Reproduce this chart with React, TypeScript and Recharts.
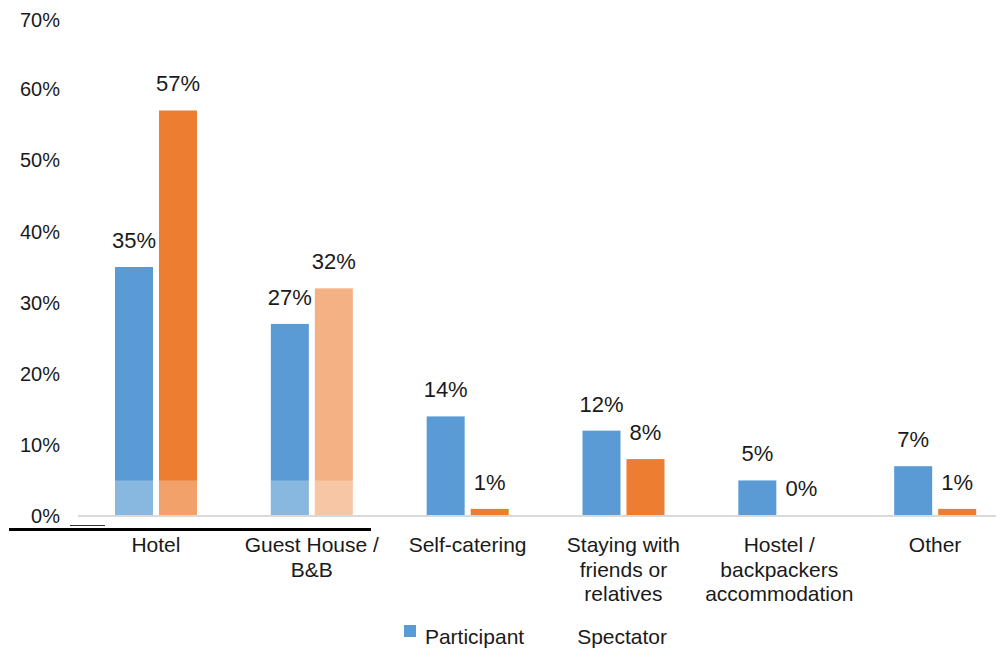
import React from "react";
import { BarChart, Bar, XAxis, YAxis, Legend, LabelList, Cell } from "recharts";

const categories = [
  "Hotel",
  "Guest House / B&B",
  "Self-catering",
  "Staying with friends or relatives",
  "Hostel / backpackers accommodation",
  "Other",
];
const participant = [35, 27, 14, 12, 5, 7];
const spectator = [57, 32, 1, 8, 0, 1];
const tickLines = [
  ["Hotel"],
  ["Guest House /", "B&B"],
  ["Self-catering"],
  ["Staying with", "friends or", "relatives"],
  ["Hostel /", "backpackers", "accommodation"],
  ["Other"],
];
const yTicks = [0, 10, 20, 30, 40, 50, 60, 70];

const data = categories.map((name, i) => ({
  name,
  participant: participant[i],
  spectator: spectator[i],
}));

const FONT = "'Liberation Sans', Arial, sans-serif";
const BLUE = "#5B9BD5";
const ORANGE = "#ED7D31";
const TEXT = "#1a1a1a";

const CategoryTick = (props: any) => {
  const { x, y, payload } = props;
  const idx = categories.indexOf(payload.value);
  const lines = tickLines[idx] || [payload.value];
  return (
    <g transform={`translate(${x},${y})`}>
      {lines.map((l, i) => (
        <text
          key={i}
          x={0}
          y={28 + i * 24.5}
          textAnchor="middle"
          fontSize={21}
          fontFamily={FONT}
          fill={TEXT}
        >
          {l}
        </text>
      ))}
    </g>
  );
};

// bars of the first two groups carry a washed-out band at the bottom (up to 5%)
const makeShape = (key: "participant" | "spectator") => (props: any) => {
  const { x, y, width, height, fill, index, payload } = props;
  const v = payload ? payload[key] : 0;
  if (!v || height <= 0) return <g />;
  const band = index < 2 ? height * (5 / v) : 0;
  return (
    <g>
      <rect x={x} y={y} width={width} height={height} fill={fill} />
      {band > 0 && (
        <rect
          x={x}
          y={y + height - band}
          width={width}
          height={band}
          fill="#ffffff"
          fillOpacity={0.28}
        />
      )}
    </g>
  );
};

const LegendBox = () => (
  <div
    style={{
      display: "flex",
      justifyContent: "center",
      fontFamily: FONT,
      fontSize: 21,
      color: TEXT,
      paddingLeft: 50,
    }}
  >
    <span style={{ display: "flex", alignItems: "flex-start", marginRight: 53 }}>
      <span
        style={{
          width: 12,
          height: 12,
          background: BLUE,
          display: "inline-block",
          marginRight: 9,
          marginTop: 0,
        }}
      />
      Participant
    </span>
    <span>Spectator</span>
  </div>
);

const labelStyle = { fontSize: 22, fontFamily: FONT, fill: TEXT };

const App = () => {
  return (
    <div style={{ position: "relative", width: 996, height: 645, overflow: "hidden" }}>
      <BarChart
        width={1005}
        height={645}
        data={data}
        margin={{ top: 10, right: 0, left: 0, bottom: 4 }}
        barSize={38}
        barGap={6}
      >
        <XAxis
          dataKey="name"
          interval={0}
          tick={<CategoryTick />}
          tickLine={false}
          axisLine={{ stroke: "#D9D9D9", strokeWidth: 2 }}
          height={109}
        />
        <YAxis
          domain={[0, 70]}
          ticks={yTicks}
          tickFormatter={(v) => `${v}%`}
          axisLine={false}
          tickLine={false}
          tickSize={0}
          tickMargin={18}
          width={70}
          tick={{ fontSize: 20, fontFamily: FONT, fill: TEXT }}
        />
        <Legend verticalAlign="bottom" content={<LegendBox />} />
        <Bar
          dataKey="participant"
          name="Participant"
          fill={BLUE}
          shape={makeShape("participant")}
          isAnimationActive={false}
        >
          <LabelList
            dataKey="participant"
            position="top"
            offset={19}
            formatter={(v: any) => `${v}%`}
            style={labelStyle}
          />
        </Bar>
        <Bar
          dataKey="spectator"
          name="Spectator"
          fill={ORANGE}
          minPointSize={1}
          shape={makeShape("spectator")}
          isAnimationActive={false}
        >
          {data.map((d, i) => (
            <Cell key={d.name} fill={i === 1 ? "#F4B183" : ORANGE} />
          ))}
          <LabelList
            dataKey="spectator"
            position="top"
            offset={19}
            formatter={(v: any) => `${v}%`}
            style={labelStyle}
          />
        </Bar>
      </BarChart>
      <div
        style={{
          position: "absolute",
          left: 1,
          top: 520,
          width: 362,
          height: 3,
          background: "#000",
        }}
      />
      <div
        style={{
          position: "absolute",
          left: 62,
          top: 517,
          width: 35,
          height: 1,
          background: "#333",
        }}
      />
    </div>
  );
};

export default App;
